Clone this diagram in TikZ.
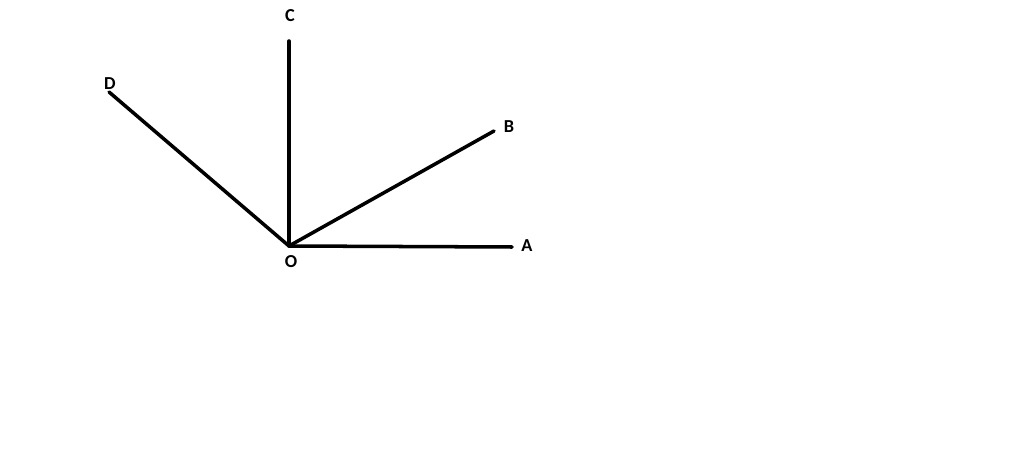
\documentclass[tikz,border=0pt]{standalone}
\usepackage{fontspec}
\setmainfont{Carlito}
\usetikzlibrary{positioning}

\begin{document}
\begin{tikzpicture}[x=0.01cm, y=-0.01cm, ray/.style={line width=1pt, line cap=round}, lbl/.style={font=\fontsize{5.2}{6}\selectfont\bfseries, inner sep=0pt}]
    \useasboundingbox (0,0) rectangle (1024,470);
    % end points of the rays
    \coordinate (O) at (289,246);
    \coordinate (A) at (512,247);
    \coordinate (B) at (494,131);
    \coordinate (C) at (289,41);
    \coordinate (D) at (109,92);

    % rays
    \draw[ray] (O) -- (A);
    \draw[ray] (O) -- (B);
    \draw[ray] (O) -- (C);
    \draw[ray] (O) -- (D);

    % labels
    \node[lbl] (labO) at (291,262) {O};
    \node[lbl] (labA) at (527,246) {A};
    \node[lbl] (labB) at (509,127) {B};
    \node[lbl] (labC) at (290,16) {C};
    \node[lbl] (labD) at (110,84) {D};
\end{tikzpicture}
\end{document}
